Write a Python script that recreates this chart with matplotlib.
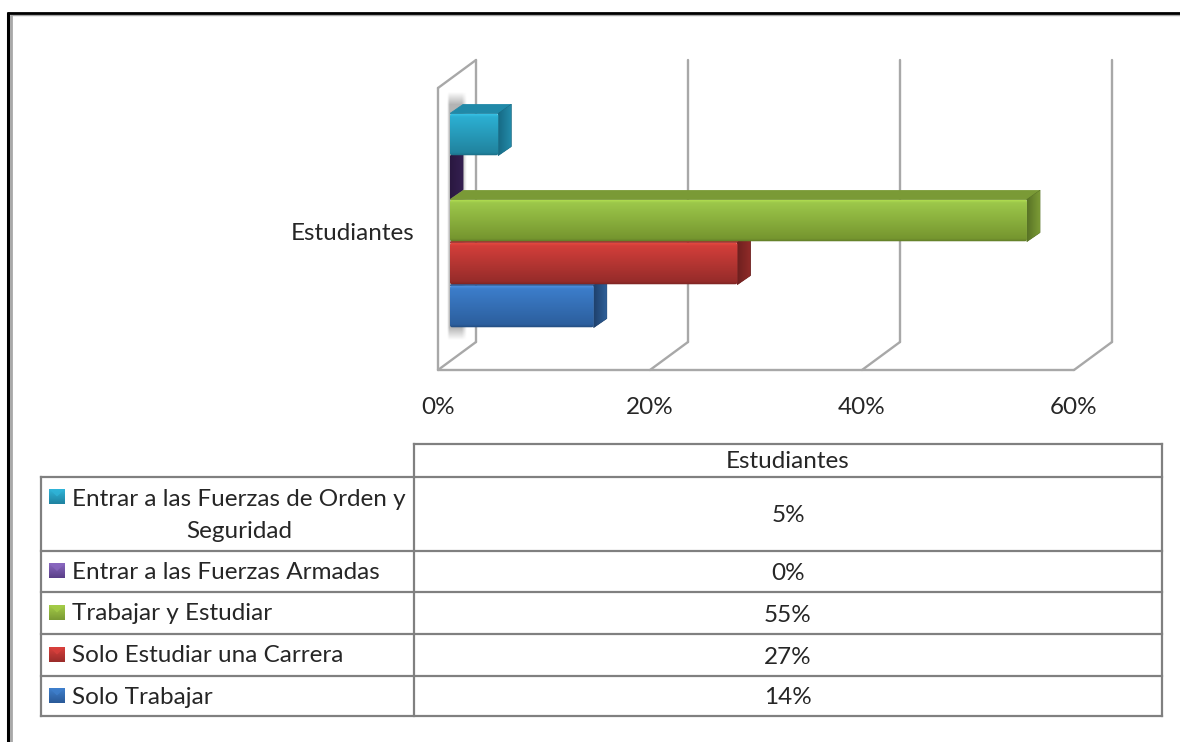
import numpy as np
import matplotlib
matplotlib.use("Agg")
import matplotlib.pyplot as plt
from matplotlib.colors import LinearSegmentedColormap
from matplotlib.patches import Polygon, FancyBboxPatch

# ---- data ----
categories = ["Solo Trabajar", "Solo Estudiar una Carrera", "Trabajar y Estudiar",
              "Entrar a las Fuerzas Armadas", "Entrar a las Fuerzas de Orden y\nSeguridad"]
table_values = [14, 27, 55, 0, 5]
bar_values = [13.7, 27.4, 55.0, 0.0, 4.6]
group_label = "Estudiantes"
x_ticks = [0, 20, 40, 60]

# ---- styles ----
front_hi = ["#4a8cdc", "#e2483f", "#aeda50", "#6a4a9a", "#36c0e4"]
front_top = ["#3c7dca", "#d23e3a", "#9cc74a", "#6a4a9a", "#2cafd2"]
front_bot = ["#2c5f9e", "#962c2a", "#76962f", "#3e2a60", "#21849f"]
front_edge = ["#224a7c", "#7a2422", "#5f7a28", "#3e2a60", "#1b6d85"]
side_dark = ["#1f426e", "#6e201f", "#597426", "#2a1840", "#176a84"]
side_light = ["#2f5f98", "#8e2a28", "#7b9a36", "#341f50", "#2289a8"]
top_col = ["#2f62a0", "#a83230", "#7a9a36", "#3e2a60", "#2089a8"]
swatch_top = ["#3f7fcc", "#d8403c", "#a4cc48", "#8a68c0", "#30b4d8"]
swatch_bot = ["#2a5a98", "#9a2c2a", "#7a9a34", "#5a3f88", "#1f82a0"]
GRID = "#a8a8a8"
TBL = "#808080"
TXT = "#262626"
FONT = "Lato"
FS = 17.5

W, H = 1180, 742
fig = plt.figure(figsize=(W / 100, H / 100), dpi=100, facecolor="white")


def rect(l, t, r, b):
    return [l / W, 1 - b / H, (r - l) / W, (b - t) / H]


# ---- overlay in pixels: border and table ----
C = fig.add_axes([0, 0, 1, 1], zorder=0)
C.set_xlim(0, W)
C.set_ylim(H, 0)
C.axis("off")
C.plot([11, 11], [15, H], color="#a8a8a8", lw=2.0, solid_capstyle="butt")
C.plot([10, W], [15, 15], color="#a8a8a8", lw=1.0, solid_capstyle="butt")
C.plot([8.2, 8.2], [12, H], color="black", lw=2.2, solid_capstyle="butt")
C.plot([7, W], [13.2, 13.2], color="black", lw=2.0, solid_capstyle="butt")

tbl_left, tbl_mid, tbl_right = 41, 414, 1162
rows_y = [716, 676, 634, 592, 551, 477]  # row bottom edges upward, ending at header bottom
head_top = 444
LW = 1.6
for y in rows_y:
    C.plot([tbl_left, tbl_right], [y, y], color=TBL, lw=LW, solid_capstyle="projecting")
C.plot([tbl_mid, tbl_right], [head_top, head_top], color=TBL, lw=LW, solid_capstyle="projecting")
C.plot([tbl_left, tbl_left], [rows_y[-1], rows_y[0]], color=TBL, lw=LW)
C.plot([tbl_mid, tbl_mid], [head_top, rows_y[0]], color=TBL, lw=LW)
C.plot([tbl_right, tbl_right], [head_top, rows_y[0]], color=TBL, lw=LW)
C.text((tbl_mid + tbl_right) / 2, 461, group_label, ha="center", va="center",
       fontsize=FS, family=FONT, color=TXT)

for i, (cat, val) in enumerate(zip(categories, table_values)):
    bot, top = rows_y[i], rows_y[i + 1]
    cy = (bot + top) / 2
    C.text((tbl_mid + tbl_right) / 2, cy + 2, f"{val}%", ha="center", va="center",
           fontsize=FS, family=FONT, color=TXT)
    parts = cat.split("\n")
    if len(parts) == 2:
        C.text(72, 499, parts[0], ha="left", va="center", fontsize=FS, family=FONT, color=TXT)
        C.text(239, 531, parts[1], ha="center", va="center", fontsize=FS, family=FONT, color=TXT)
        sy = 496.5
    else:
        C.text(72, cy + 1, cat, ha="left", va="center", fontsize=FS, family=FONT, color=TXT)
        sy = cy - 0.5
    cm = LinearSegmentedColormap.from_list("s", [swatch_top[i], swatch_bot[i]])
    C.imshow(np.linspace(0, 1, 32)[:, None], cmap=cm, aspect="auto",
             extent=(49, 65, sy + 7.5, sy - 7.5), zorder=3)
    C.add_patch(Polygon([(49, sy - 7.5), (65, sy - 7.5), (57, sy)], closed=True,
                        fc=swatch_top[i], ec="none", alpha=0.75, zorder=4))
C.set_xlim(0, W)
C.set_ylim(H, 0)

# ---- 3D frame axes (floor scale) ----
B = fig.add_axes(rect(438, 88, 1074, 370), zorder=1)
B.patch.set_alpha(0)
B.set_xlim(0, 60)
B.set_ylim(0, 1)
for s in B.spines.values():
    s.set_visible(False)
B.set_xticks(x_ticks)
B.set_xticklabels([f"{t}%" for t in x_ticks], fontsize=FS, family=FONT, color=TXT)
B.set_yticks([0.49])
B.set_yticklabels([group_label], fontsize=FS, family=FONT, color=TXT)
B.tick_params(axis="x", length=0, pad=19.5)
B.tick_params(axis="y", length=0, pad=17)
wall_dx = 38 / 636 * 60
wall_dy = 28 / 282
kw = dict(color=GRID, lw=1.7, clip_on=False, solid_capstyle="round", solid_joinstyle="round")
B.plot([0, 60], [0, 0], **kw)
B.plot([0, 0], [0, 1], **kw)
B.plot([0, wall_dx], [1, 1 + wall_dy], **kw)
for t in x_ticks:
    B.plot([t, t + wall_dx], [0, wall_dy], **kw)
    B.plot([t + wall_dx, t + wall_dx], [wall_dy, 1 + wall_dy], **kw)

# ---- bars axes (front plane of bars) ----
px_per_unit = 10.49
A = fig.add_axes(rect(450, 91.5, 450 + 60 * px_per_unit, 349.5), zorder=2)
A.patch.set_alpha(0)
A.axis("off")
depth_x = 13 / px_per_unit
depth_y = 9 / 43
h = 42 / 43

# soft shadow on the wall behind the bars
sx = np.linspace(0, 1, 40)
sy_ = np.linspace(-1, 1, 120)
fade_y = np.clip((1 - np.abs(sy_)) / 0.10, 0, 1)
fade_x = np.clip(sx / 0.12, 0, 1) * np.clip((1 - sx) / 0.25, 0, 1)
rgba = np.zeros((120, 40, 4))
rgba[..., :3] = 0.55
rgba[..., 3] = np.outer(fade_y, fade_x) * 0.65
sh = A.imshow(rgba, aspect="auto", extent=(-0.3, 1.6, -0.8, 5.0), zorder=1,
              interpolation="bilinear")
sh.set_clip_on(False)

for i, val in enumerate(bar_values):
    z = 2 + i
    y0, y1 = i - h / 2, i + h / 2
    if val > 0:
        cm = LinearSegmentedColormap.from_list(
            "f", [(0, front_hi[i]), (0.06, front_top[i]), (0.92, front_bot[i]), (1, front_edge[i])])
        im = A.imshow(np.linspace(0, 1, 64)[:, None], cmap=cm, aspect="auto",
                      extent=(0, val, y0, y1), zorder=z + 0.5)
        clip = FancyBboxPatch((0.1, y0 + 0.03), val - 0.2, h - 0.06,
                              boxstyle="round,pad=0.1,rounding_size=0.2",
                              mutation_aspect=10.49 / 43, fc="none", ec="none",
                              transform=A.transData)
        A.add_patch(clip)
        im.set_clip_path(clip)
    A.add_patch(Polygon([(0, y1), (depth_x, y1 + depth_y), (val + depth_x, y1 + depth_y), (val, y1)],
                        closed=True, fc=top_col[i], ec=top_col[i], lw=0.6, joinstyle="round", zorder=z))
    side = Polygon([(val, y0), (val + depth_x, y0 + depth_y), (val + depth_x, y1 + depth_y), (val, y1)],
                   closed=True, fc=side_dark[i], ec=side_dark[i], lw=0.6, joinstyle="round", zorder=z)
    A.add_patch(side)
    cm2 = LinearSegmentedColormap.from_list("g", [side_dark[i], side_light[i]])
    im2 = A.imshow(np.linspace(0, 1, 16)[None, :], cmap=cm2, aspect="auto",
                   extent=(val, val + depth_x, y0, y1 + depth_y), zorder=z + 0.1)
    im2.set_clip_path(side)
A.set_xlim(0, 60)
A.set_ylim(-1, 5)

fig.savefig("out.png", dpi=100)
